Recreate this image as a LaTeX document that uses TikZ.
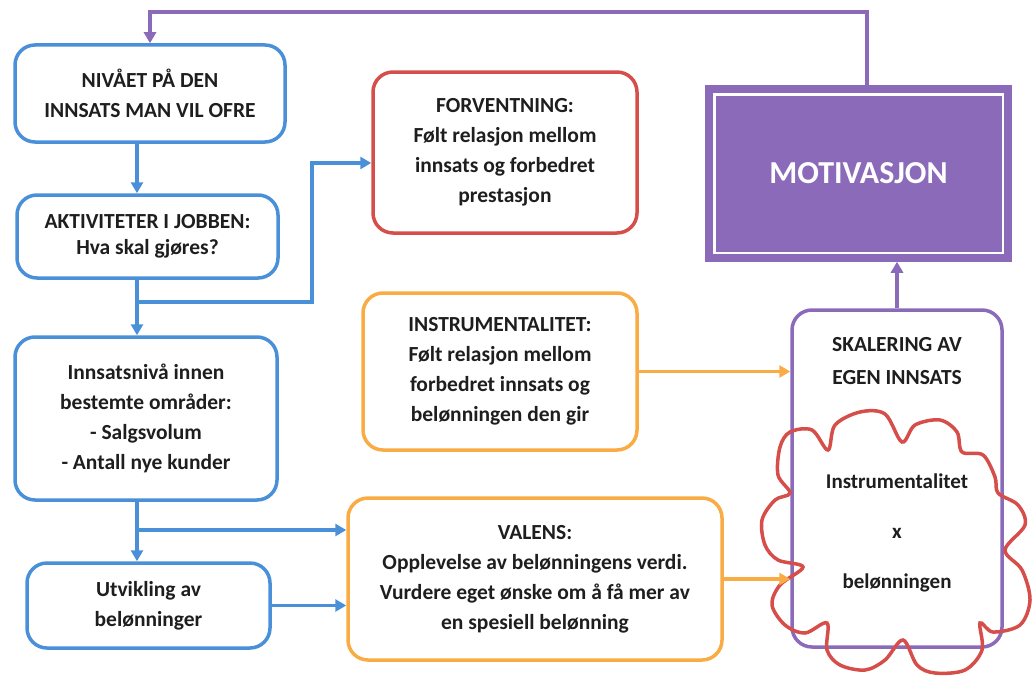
\documentclass[tikz,border=0pt]{standalone}
\usepackage{fontspec}
\setmainfont{Carlito}
\usetikzlibrary{arrows.meta,calc}
\definecolor{blauw}{RGB}{74,144,217}
\definecolor{rod}{RGB}{214,78,74}
\definecolor{oransj}{RGB}{250,172,68}
\definecolor{lilla}{RGB}{139,106,186}
\definecolor{tekst}{RGB}{30,30,30}
\tikzset{
  boks/.style={draw=#1, line width=3.5pt, rounded corners=20pt, fill=white, align=center,
    text=tekst, font=\bfseries\fontsize{21.5}{30}\selectfont, inner sep=0pt},
  pil/.style={line width=3.5pt, -{Triangle[length=11pt,width=12pt]}},
}
\begin{document}
\begin{tikzpicture}[x=1pt,y=-1pt]
			%%%%% START %%%%%
			\useasboundingbox (0,0) rectangle (1032,677);
			
			% left column
			\node[boks=blauw, minimum width=270pt, minimum height=97pt] (niva) at (150,93.5) {NIVÅET PÅ DEN\\INNSATS MAN VIL OFRE};
			\node[boks=blauw, minimum width=261pt, minimum height=83pt, font=\bfseries\fontsize{21.5}{26}\selectfont] (aktiv) at (147.5,236.5) {AKTIVITETER I JOBBEN:\\Hva skal gjøres?};
			\node[boks=blauw, minimum width=262pt, minimum height=163pt] (innsats) at (146,418.5) {Innsatsnivå innen\\bestemte områder:\\- Salgsvolum\\- Antall nye kunder};
			\node[boks=blauw, minimum width=243pt, minimum height=85pt] (utvikl) at (148.5,605.5) {Utvikling av\\belønninger};
			
			% middle column
			\node[boks=rod, minimum width=264pt, minimum height=161pt] (forv) at (505,152.5) {FORVENTNING:\\Følt relasjon mellom\\innsats og forbedret\\prestasjon};
			\node[boks=oransj, minimum width=274pt, minimum height=157pt] (instr) at (500,371.5) {INSTRUMENTALITET:\\Følt relasjon mellom\\forbedret innsats og\\belønningen den gir};
			\node[boks=oransj, minimum width=374pt, minimum height=162pt] (valens) at (535,579) {VALENS:\\Opplevelse av belønningens verdi.\\Vurdere eget ønske om å få mer av\\en spesiell belønning};
			
			% right column
			\node[draw=lilla, fill=lilla, line width=3.5pt, minimum width=303pt, minimum height=173pt, text=white, font=\bfseries\fontsize{32}{34}\selectfont] (motiv) at (858.5,173.5) {MOTIVASJON};
			\draw[white, line width=2.5pt] ($(motiv.north west)+(9,9)$) rectangle ($(motiv.south east)+(-9,-9)$);
			\node[boks=lilla, minimum width=210pt, minimum height=337pt] (skal) at (897,478.5) {};
			\node[text=tekst, font=\bfseries\fontsize{21.5}{33}\selectfont, align=center] (skaltxt) at (897,361) {SKALERING AV\\EGEN INNSATS};
			
			% cloud
			\draw[rod, line width=3.5pt] plot[smooth cycle, tension=0.55] coordinates {
				(780,447) (790,432) (812,430) (828,450) (835,425) (860,412) (885,414) (902,442)
				(915,425) (940,420) (957,432) (962,452) (983,455) (995,477) (998,493)
				(1018,505) (1025,525) (1005,550) (1022,570) (1030,600) (1020,625) (993,632) (980,623)
				(982,650) (965,670) (935,673) (917,665) (903,640) (885,660) (865,670) (840,665) (827,650) (827,623)
				(805,633) (785,625) (772,605) (780,585) (803,567) (778,560) (765,545) (762,520) (775,500) (790,493)
				(778,475)};
			\node[text=tekst, font=\bfseries\fontsize{21}{50}\selectfont, align=center] (skyen) at (897,533) {Instrumentalitet\\x\\belønningen};
			
			% arrows
			\coordinate (spine) at (137,0);
			\coordinate (k1) at (137,302);
			\coordinate (k2) at (312,163);
			\coordinate (k3) at (137,530);
			\coordinate (topp) at (867,12);
			\draw[pil, blauw] (niva.south -| spine) -- (aktiv.north -| spine);
			\draw[pil, blauw] (aktiv.south -| spine) -- (innsats.north -| spine);
			\draw[pil, blauw] (k1) -| (k2) -- (k2 -| forv.west);
			\draw[pil, blauw] (innsats.south -| spine) -- (utvikl.north -| spine);
			\draw[pil, blauw] (k3) -- (k3 -| valens.west);
			\draw[pil, blauw] (utvikl.east) -- (utvikl.east -| valens.west);
			\draw[pil, oransj] (instr.east) -- (instr.east -| skal.west);
			\draw[pil, oransj] (valens.east) -- (valens.east -| skal.west);
			\draw[pil, lilla] (skal.north) -- (skal.north |- motiv.south);
			\draw[pil, lilla] (motiv.north -| topp) -- (topp) -| (niva.north);
			
			%%%%% END %%%%%
\end{tikzpicture}
\end{document}
